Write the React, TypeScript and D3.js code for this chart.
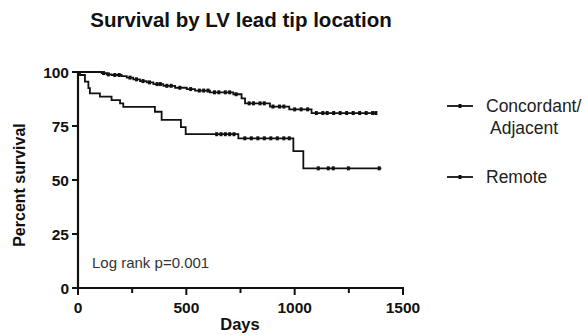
import React from "react";
import * as d3 from "d3";

// Kaplan-Meier step data: [day, percent survival after event]
const concordantTimes = [0, 109, 132, 155, 201, 225, 255, 286, 317, 348, 394, 448, 502, 540, 609, 717, 755, 771, 886, 975, 1078];
const concordantSurv = [100, 99.5, 98.9, 98.6, 98.1, 97.4, 96.6, 95.8, 95.2, 94.4, 93.6, 92.7, 92.1, 91.4, 90.6, 89.7, 87.8, 85.5, 84.0, 82.7, 81.0];
const concordantEnd = 1375;
const concordantCensor = [118, 140, 170, 190, 240, 270, 300, 330, 365, 380, 410, 430, 470, 520, 560, 580, 600, 630, 650, 680, 700, 730, 790, 810, 840, 860, 900, 930, 950, 1000, 1030, 1060, 1100, 1130, 1150, 1180, 1210, 1240, 1270, 1300, 1330, 1360, 1375];

const remoteTimes = [0, 9, 32, 48, 55, 101, 155, 194, 209, 355, 386, 475, 497, 740, 994, 1040];
const remoteSurv = [100, 98.6, 95.5, 92.5, 90.1, 88.6, 87.0, 85.5, 83.9, 81.6, 77.8, 74.5, 71.2, 69.3, 63.4, 55.4];
const remoteEnd = 1400;
const remoteCensor = [640, 660, 680, 700, 720, 770, 800, 830, 860, 890, 920, 950, 975, 1109, 1155, 1178, 1248, 1390];

const xTicks = [0, 500, 1000, 1500];
const xMinorTicks = [250, 750, 1250];
const yTicks = [0, 25, 50, 75, 100];

const title = "Survival by LV lead tip location";
const xLabel = "Days";
const yLabel = "Percent survival";
const annotation = "Log rank p=0.001";
const legendLabels = [["Concordant/", "Adjacent"], ["Remote"]];

const FONT = "'Liberation Sans', Arial, Helvetica, sans-serif";

function survAt(times: number[], surv: number[], t: number) {
  let s = surv[0];
  for (let i = 0; i < times.length; i++) if (times[i] <= t) s = surv[i];
  return s;
}

export default function App() {
  const x = d3.scaleLinear().domain([0, 1500]).range([78, 403]);
  const y = d3.scaleLinear().domain([0, 100]).range([288, 72]);

  const line = d3
    .line<[number, number]>()
    .x((d) => x(d[0]))
    .y((d) => y(d[1]))
    .curve(d3.curveStepAfter);

  const makePts = (times: number[], surv: number[], end: number) => {
    const pts: [number, number][] = times.map((t, i) => [t, surv[i]]);
    pts.push([end, surv[surv.length - 1]]);
    return pts;
  };

  const series = [
    { times: concordantTimes, surv: concordantSurv, end: concordantEnd, censor: concordantCensor },
    { times: remoteTimes, surv: remoteSurv, end: remoteEnd, censor: remoteCensor },
  ];

  const legendY = [106, 177];

  return (
    <svg width={585} height={335} style={{ position: "absolute", left: 0, top: 0, background: "#fff" }} fontFamily={FONT}>
      <rect x={0} y={0} width={585} height={335} fill="#fff" />
      <text x={241} y={27} textAnchor="middle" fontSize={20.5} fontWeight="bold" fill="#111">
        {title}
      </text>

      {series.map((s, i) => (
        <g key={i}>
          <path d={line(makePts(s.times, s.surv, s.end)) || ""} fill="none" stroke="#111" strokeWidth={1.8} />
          {s.censor.map((c, j) => {
            const v = survAt(s.times, s.surv, c);
            return <rect key={j} x={x(c) - 1.5} y={y(v) - 2} width={3} height={4} fill="#111" />;
          })}
        </g>
      ))}

      {/* axes */}
      <line x1={78} x2={78} y1={71} y2={289} stroke="#111" strokeWidth={2.2} />
      <line x1={77} x2={404} y1={288} y2={288} stroke="#111" strokeWidth={2.2} />
      {yTicks.map((t) => (
        <g key={t}>
          <line x1={72} x2={78} y1={y(t)} y2={y(t)} stroke="#111" strokeWidth={2} />
          <text x={69} y={y(t) + 5.5} textAnchor="end" fontSize={15.5} fontWeight="bold" fill="#111">
            {t}
          </text>
        </g>
      ))}
      {xTicks.map((t) => (
        <g key={t}>
          <line x1={x(t)} x2={x(t)} y1={288} y2={295} stroke="#111" strokeWidth={2} />
          <text x={x(t)} y={313} textAnchor="middle" fontSize={15.5} fontWeight="bold" fill="#111">
            {t}
          </text>
        </g>
      ))}
      {xMinorTicks.map((t) => (
        <line key={t} x1={x(t)} x2={x(t)} y1={288} y2={293} stroke="#111" strokeWidth={2} />
      ))}

      <text x={240} y={330} textAnchor="middle" fontSize={16.5} fontWeight="bold" fill="#111">
        {xLabel}
      </text>
      <text transform="translate(25,185) rotate(-90)" textAnchor="middle" fontSize={16} fontWeight="bold" fill="#111">
        {yLabel}
      </text>

      <text x={92} y={268} fontSize={15} fill="#333">
        {annotation}
      </text>

      {legendLabels.map((lab, i) => (
        <g key={i}>
          <line x1={447} x2={473} y1={legendY[i]} y2={legendY[i]} stroke="#111" strokeWidth={1.8} />
          <rect x={458.5} y={legendY[i] - 2} width={3} height={4} fill="#111" />
          {lab.map((l, k) => (
            <text key={k} x={k === 0 ? 486 : 490} y={legendY[i] + 6 + k * 21.5} fontSize={17.5} fill="#222">
              {l}
            </text>
          ))}
        </g>
      ))}
    </svg>
  );
}
